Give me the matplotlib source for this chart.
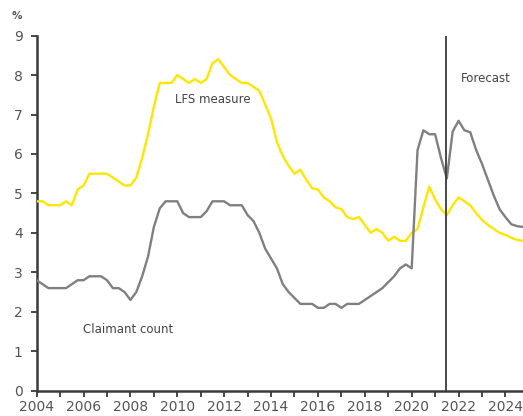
import matplotlib
matplotlib.use("Agg")
import matplotlib.pyplot as plt
import numpy as np
from matplotlib.ticker import MultipleLocator

# Quarterly observations, 2004 Q1 to 2024 Q4 (%)
start_year = 2004
lfs_rate = [
    4.8, 4.8, 4.7, 4.7,   # 2004
    4.7, 4.8, 4.7, 5.1,   # 2005
    5.2, 5.5, 5.5, 5.5,   # 2006
    5.5, 5.4, 5.3, 5.2,   # 2007
    5.2, 5.4, 5.9, 6.5,   # 2008
    7.2, 7.8, 7.8, 7.8,   # 2009
    8.0, 7.9, 7.8, 7.9,   # 2010
    7.8, 7.9, 8.3, 8.4,   # 2011
    8.2, 8.0, 7.9, 7.8,   # 2012
    7.8, 7.7, 7.6, 7.25,  # 2013
    6.9, 6.3, 5.95, 5.7,  # 2014
    5.5, 5.6, 5.35, 5.13, # 2015
    5.1, 4.9, 4.8, 4.65,  # 2016
    4.6, 4.4, 4.35, 4.4,  # 2017
    4.2, 4.0, 4.1, 4.0,   # 2018
    3.8, 3.9, 3.8, 3.8,   # 2019
    4.0, 4.1, 4.65, 5.17, # 2020
    4.85, 4.6, 4.45, 4.7, # 2021
    4.9, 4.8, 4.7, 4.5,   # 2022
    4.33, 4.2, 4.1, 4.0,  # 2023
    3.95, 3.88, 3.82, 3.8 # 2024
]
claimant_rate = [
    2.8, 2.7, 2.6, 2.6,   # 2004
    2.6, 2.6, 2.7, 2.8,   # 2005
    2.8, 2.9, 2.9, 2.9,   # 2006
    2.8, 2.6, 2.6, 2.5,   # 2007
    2.3, 2.5, 2.9, 3.4,   # 2008
    4.15, 4.62, 4.8, 4.8, # 2009
    4.8, 4.5, 4.4, 4.4,   # 2010
    4.4, 4.55, 4.8, 4.8,  # 2011
    4.8, 4.7, 4.7, 4.7,   # 2012
    4.45, 4.3, 4.0, 3.6,  # 2013
    3.35, 3.1, 2.7, 2.5,  # 2014
    2.35, 2.2, 2.2, 2.2,  # 2015
    2.1, 2.1, 2.2, 2.2,   # 2016
    2.1, 2.2, 2.2, 2.2,   # 2017
    2.3, 2.4, 2.5, 2.6,   # 2018
    2.75, 2.9, 3.1, 3.2,  # 2019
    3.1, 6.1, 6.6, 6.5,   # 2020
    6.5, 5.9, 5.38, 6.57, # 2021
    6.84, 6.6, 6.55, 6.1, # 2022
    5.75, 5.35, 4.95, 4.6,# 2023
    4.4, 4.22, 4.17, 4.15 # 2024
]
forecast_start = 2021.45
series_labels = ["LFS measure", "Claimant count"]

years = start_year + np.arange(len(lfs_rate)) / 4.0

W, H = 523, 416
fig = plt.figure(figsize=(W / 100, H / 100), dpi=100)
ax = fig.add_axes([36.7 / W, 1 - 390.7 / H, (W - 36.7) / W, (390.7 - 35.6) / H])

yellow = "#FFE600"
grey = "#808080"
text_col = "#555555"
axis_col = "#3a3a3a"

ax.plot(years, lfs_rate, color=yellow, lw=1.7, solid_joinstyle="round", zorder=3)
ax.plot(years, claimant_rate, color=grey, lw=1.7, solid_joinstyle="round", zorder=3)
ax.axvline(forecast_start, color=axis_col, lw=1.3, zorder=4)

ax.set_xlim(2004, 2024.75)
ax.set_ylim(0, 9)

ax.xaxis.set_major_locator(MultipleLocator(2))
ax.xaxis.set_minor_locator(MultipleLocator(1))
ax.yaxis.set_major_locator(MultipleLocator(1))

for s in ["top", "right"]:
    ax.spines[s].set_visible(False)
for s in ["left", "bottom"]:
    ax.spines[s].set_color(axis_col)
    ax.spines[s].set_linewidth(1.8)

ax.tick_params(axis="both", which="both", direction="out", color=axis_col,
               width=1.3, length=4, labelcolor=text_col, labelsize=10)
ax.tick_params(axis="x", which="major", pad=3)
ax.tick_params(axis="y", which="major", pad=6)

ax.text(2011.5, 7.37, series_labels[0], color="#444444", fontsize=8.5,
        ha="center", va="center")
ax.text(2007.88, 1.54, series_labels[1], color="#444444", fontsize=8.5,
        ha="center", va="center")
ax.text(2023.15, 7.92, "Forecast", color="#444444", fontsize=8.5,
        ha="center", va="center")

fig.text(17 / W, 1 - 16 / H, "%", color="#555555", fontsize=7.5,
         fontweight="bold", ha="center", va="center")

fig.savefig("out.png", dpi=100)
